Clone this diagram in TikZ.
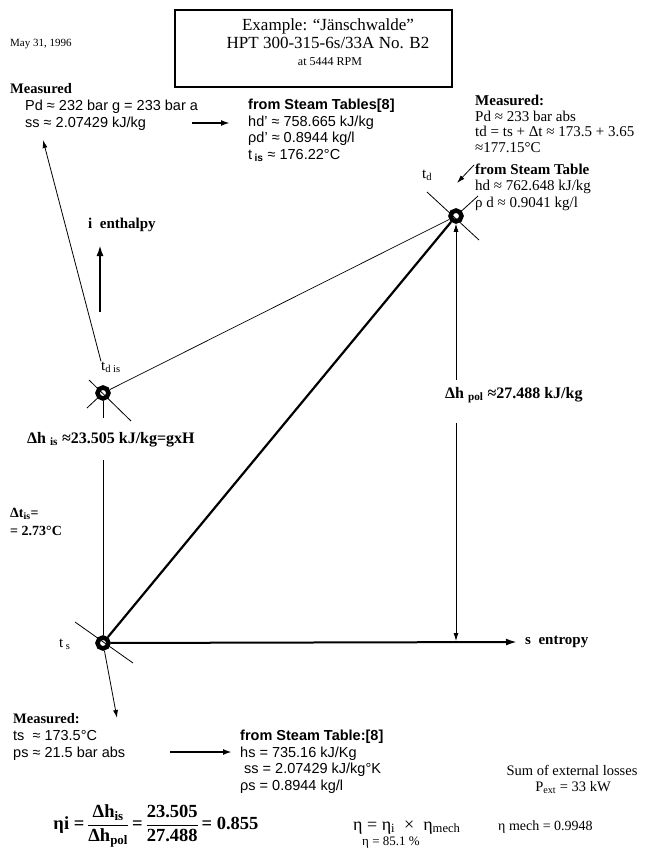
\documentclass[tikz,border=0pt]{standalone}
\usepackage{amsmath}
\usepackage{fontspec}
\setmainfont{Liberation Serif}
\setsansfont{Liberation Sans}
\usetikzlibrary{arrows.meta}
\newcommand{\lo}[1]{\textsubscript{#1}}

\begin{document}
\begin{tikzpicture}[
    x=1pt, y=-1pt,
    every node/.style={inner sep=0pt, anchor=base west},
    lbl/.style={font=\fontsize{16}{18}\selectfont\bfseries},
    head/.style={font=\fontsize{14.5}{16}\selectfont\bfseries},
    tbl/.style={font=\sffamily\fontsize{14.5}{16.5}\selectfont, align=left},
    stp/.style={font=\fontsize{15}{15.5}\selectfont, align=left},
    tmp/.style={font=\fontsize{15}{17}\selectfont},
    spt/.style={circle, draw, line width=4.5pt, minimum size=11pt, anchor=center},
    fine/.style={line width=0.7pt},
    xmark/.style={line width=0.8pt},
    arr/.style={-{Latex[length=8pt,width=5pt]}, line width=0.8pt},
    bigarr/.style={-{Latex[length=11pt,width=7pt]}, line width=2pt}
  ]
    \useasboundingbox (0,0) rectangle (647,857);

    % header (multi-line nodes sit on their last baseline)
    \node[font=\fontsize{11}{12}\selectfont] (date) at (10,46) {May 31, 1996};
    \draw[line width=1.6pt] (175,10) rectangle (452,87);
    \node[align=center, font=\fontsize{17}{18}\selectfont, anchor=base]
      (title) at (328,48.6) {Example: “Jänschwalde”\\HPT 300-315-6s/33A No. B2};
    \node[anchor=base, font=\fontsize{12}{13}\selectfont] (rpm) at (330,65) {at 5444 RPM};

    % state points
    \node[spt] (td) at (456,216) {};
    \node[spt] (tdis) at (103,393) {};
    \node[spt] (ts) at (103,643) {};
    \node[tmp] (tdLbl) at (422,178) {t\lo{d}};
    \node[tmp] (tdisLbl) at (101,370) {t\lo{d is}};
    \node[tmp] (tsLbl) at (59,647) {t\,\lo{s}};

    % cross marks
    \draw[xmark] ([shift={(-29,-24)}]td.center) -- ([shift={(23,24)}]td.center);
    \draw[xmark] (td) -- ([shift={(22,-20)}]td.center);
    \draw[xmark] ([shift={(-14,-13)}]tdis.center) -- ([shift={(28,28)}]tdis.center);
    \draw[xmark] (tdis) -- ([shift={(-16,15)}]tdis.center);
    \draw[xmark] ([shift={(-28,-21)}]ts.center) -- ([shift={(30,20)}]ts.center);

    % axes
    \node[font=\fontsize{15}{17}\selectfont\bfseries] (ienth) at (88,228) {i\ \ enthalpy};
    \node[font=\fontsize{15}{17}\selectfont\bfseries] (ent) at (525,644) {s\ \ entropy};
    \coordinate (iTail) at (100,312);
    \coordinate (iTip) at (100,245);
    \coordinate (sTip) at (517,642);
    \draw[bigarr] (iTail) -- (iTip);
    \draw[bigarr] (ts) -- (sTip);

    % process lines
    \draw[fine] (tdis) -- (td);
    \draw[line width=2.2pt] (ts) -- (td);

    % isentropic drop
    \node[lbl] (dhis) at (27,443) {Δh \lo{is} ≈23.505 kJ/kg=gxH};
    \coordinate (isTop) at (103,418);
    \coordinate (isBot) at (103,460);
    \draw[fine] (tdis) -- (isTop);
    \draw[fine] (isBot) -- (ts);
    \node[font=\fontsize{14}{18}\selectfont\bfseries, align=left] (dtis) at (10,535)
      {Δt\lo{is}=\\= 2.73°C};

    % polytropic drop
    \node[lbl] (dhpol) at (445,398) {Δh \lo{pol} ≈27.488 kJ/kg};
    \coordinate (polTop) at (456,380);
    \coordinate (polBot) at (456,423);
    \coordinate (polTip) at (456,641);
    \draw[arr] (polTop) -- (td);
    \draw[arr] (polBot) -- (polTip);

    % discharge data
    \node[head] (mTop) at (10,93) {Measured};
    \node[tbl] (pdTop) at (25,127) {Pd ≈ 232 bar g = 233 bar a\\ss ≈ 2.07429 kJ/kg};
    \node[tbl] (stTop) at (248,159)
      {\textbf{from Steam Tables[8]}\\hd' ≈ 758.665 kJ/kg\\ρd' ≈ 0.8944 kg/l\\t\,\lo{\textbf{is}} ≈ 176.22°C};
    \coordinate (topA) at (192,123);
    \coordinate (topB) at (230,123);
    \draw[bigarr, -{Latex[length=9pt,width=6pt]}] (topA) -- (topB);
    \coordinate (ssTip) at (43,140);
    \draw[arr] (tdisLbl.north west) -- (ssTip);

    \node[stp] (tdTop) at (475,207)
      {\textbf{Measured:}\\Pd ≈ 233 bar abs\\td = ts + Δt ≈ 173.5 + 3.65\\≈177.15°C\\[7pt]
       \textbf{from Steam Table}\\hd ≈ 762.648 kJ/kg\\[1.5pt]ρ d ≈ 0.9041 kg/l};
    \coordinate (tdA) at (474,165);
    \coordinate (tdB) at (457,183);
    \draw[arr] (tdA) -- (tdB);

    % suction data
    \node[head] (mBot) at (13,723) {Measured:};
    \node[tbl] (tsBot) at (13,757) {ts \ ≈ 173.5°C\\ps ≈ 21.5 bar abs};
    \node[tbl] (stBot) at (240,790)
      {\textbf{from Steam Table:[8]}\\hs = 735.16 kJ/Kg\\\ ss = 2.07429 kJ/kg°K\\ρs = 0.8944 kg/l};
    \coordinate (tsTip) at (117,718);
    \draw[arr] (ts) -- (tsTip);
    \coordinate (botA) at (170,752);
    \coordinate (botB) at (232,752);
    \draw[bigarr, -{Latex[length=9pt,width=6pt]}] (botA) -- (botB);

    % efficiencies
    \node[anchor=base, font=\fontsize{14.5}{16}\selectfont] (loss) at (572,775) {Sum of external losses};
    \node[anchor=base, font=\fontsize{14.5}{16}\selectfont] (pext) at (573,791) {P\lo{ext} = 33 kW};
    \node[anchor=center, font=\fontsize{18.5}{20}\selectfont\bfseries] (etai) at (156,826)
      {$\text{ηi =}\,\dfrac{\text{Δh\lo{is}}}{\text{Δh\lo{pol}}}\,\text{=}\,\dfrac{\text{23.505}}{\text{27.488}}\,\text{= 0.855}$};
    \node[font=\fontsize{18}{20}\selectfont] (etaProd) at (353,830) {η = η\lo{i} \ × \ η\lo{mech}};
    \node[font=\fontsize{13}{15}\selectfont] (etaVal) at (362,845) {η = 85.1 \%};
    \node[font=\fontsize{14}{16}\selectfont] (etaMech) at (498,830) {η mech = 0.9948};
  \end{tikzpicture}
\end{document}
